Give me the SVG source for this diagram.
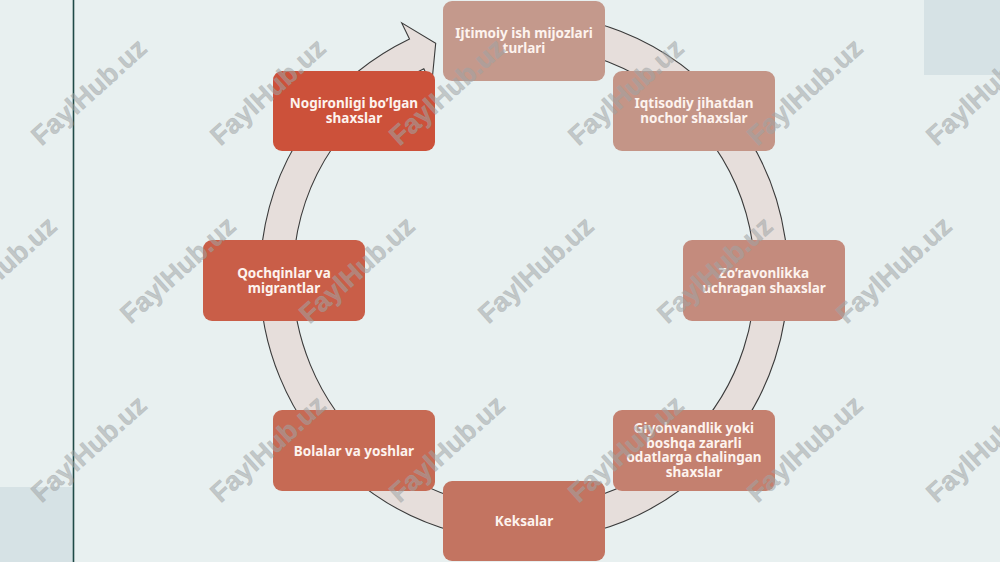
<svg xmlns="http://www.w3.org/2000/svg" width="1000" height="562" viewBox="0 0 1000 562">
  <style>
    .box { stroke: none; }
    .lbl { font-family: "Noto Sans", "Open Sans", "DejaVu Sans", sans-serif; font-weight: 700; font-size: 13.5px; fill: #fdf3ee; text-anchor: middle; }
    .wm { font-family: "Liberation Sans", Arial, sans-serif; font-weight: 700; font-size: 27px; fill: #a0a4a5; fill-opacity: 0.55; stroke: #a0a4a5; stroke-opacity: 0.4; stroke-width: 0.6; text-anchor: middle; dominant-baseline: central; }
  </style>
  <rect x="0" y="0" width="1000" height="562" fill="#e8f0f0"/>
  <rect x="924" y="0" width="76" height="75" fill="#d6e2e5"/>
  <rect x="0" y="487" width="73" height="75" fill="#d6e2e5"/>
  <line x1="73.5" y1="0" x2="73.5" y2="562" stroke="#1f4a47" stroke-width="1.6"/>

  <g id="connectors">
    <path id="cycle-arrow" d="M 500.99 14.0 A 264 264 0 1 1 409.51 39.11 L 401.71 22.90 L 435.7 43.3 L 431.63 85.07 L 423.82 68.85 A 231 231 0 1 0 503.87 46.88 Z" fill="#e6dedb" stroke="#3a3a3a" stroke-width="1.1" stroke-linejoin="miter"/>
  </g>

  <g id="node-top">
    <rect class="box" x="443" y="1" width="162" height="80" rx="9" fill="#c4998c"/>
    <text class="lbl" x="524" y="38">Ijtimoiy ish mijozlari</text>
    <text class="lbl" x="524" y="53">turlari</text>
  </g>
  <g id="node-iqtisodiy">
    <rect class="box" x="613" y="71" width="162" height="80" rx="9" fill="#c49587"/>
    <text class="lbl" x="694" y="108">Iqtisodiy jihatdan</text>
    <text class="lbl" x="694" y="123">nochor shaxslar</text>
  </g>
  <g id="node-zoravonlik">
    <rect class="box" x="683" y="240" width="162" height="81" rx="9" fill="#c48b7d"/>
    <text class="lbl" x="764" y="278">Zo’ravonlikka</text>
    <text class="lbl" x="764" y="293">uchragan shaxslar</text>
  </g>
  <g id="node-giyohvandlik">
    <rect class="box" x="613" y="410" width="162" height="81" rx="9" fill="#c4806f"/>
    <text class="lbl" x="694" y="433">Giyohvandlik yoki</text>
    <text class="lbl" x="694" y="447.7">boshqa zararli</text>
    <text class="lbl" x="694" y="462.4">odatlarga chalingan</text>
    <text class="lbl" x="694" y="477">shaxslar</text>
  </g>
  <g id="node-keksalar">
    <rect class="box" x="443" y="481" width="162" height="80" rx="9" fill="#c37461"/>
    <text class="lbl" x="524" y="525.5">Keksalar</text>
  </g>
  <g id="node-bolalar">
    <rect class="box" x="273" y="410" width="162" height="81" rx="9" fill="#c66a54"/>
    <text class="lbl" x="354" y="455.5">Bolalar va yoshlar</text>
  </g>
  <g id="node-qochqinlar">
    <rect class="box" x="203" y="240" width="162" height="81" rx="9" fill="#c95e48"/>
    <text class="lbl" x="284" y="278">Qochqinlar va</text>
    <text class="lbl" x="284" y="293">migrantlar</text>
  </g>
  <g id="node-nogironligi">
    <rect class="box" x="273" y="71" width="162" height="80" rx="9" fill="#cc513a"/>
    <text class="lbl" x="354" y="108">Nogironligi bo’lgan</text>
    <text class="lbl" x="354" y="123">shaxslar</text>
  </g>

  <g id="watermarks">
    <text class="wm" transform="translate(89,92) rotate(-42)">FaylHub.uz</text>
    <text class="wm" transform="translate(268,92) rotate(-42)">FaylHub.uz</text>
    <text class="wm" transform="translate(447,92) rotate(-42)">FaylHub.uz</text>
    <text class="wm" transform="translate(626,92) rotate(-42)">FaylHub.uz</text>
    <text class="wm" transform="translate(805,92) rotate(-42)">FaylHub.uz</text>
    <text class="wm" transform="translate(984,92) rotate(-42)">FaylHub.uz</text>
    <text class="wm" transform="translate(-1,270) rotate(-42)">FaylHub.uz</text>
    <text class="wm" transform="translate(178,270) rotate(-42)">FaylHub.uz</text>
    <text class="wm" transform="translate(357,270) rotate(-42)">FaylHub.uz</text>
    <text class="wm" transform="translate(536,270) rotate(-42)">FaylHub.uz</text>
    <text class="wm" transform="translate(715,270) rotate(-42)">FaylHub.uz</text>
    <text class="wm" transform="translate(894,270) rotate(-42)">FaylHub.uz</text>
    <text class="wm" transform="translate(89,449) rotate(-42)">FaylHub.uz</text>
    <text class="wm" transform="translate(268,449) rotate(-42)">FaylHub.uz</text>
    <text class="wm" transform="translate(447,449) rotate(-42)">FaylHub.uz</text>
    <text class="wm" transform="translate(626,449) rotate(-42)">FaylHub.uz</text>
    <text class="wm" transform="translate(805,449) rotate(-42)">FaylHub.uz</text>
    <text class="wm" transform="translate(984,449) rotate(-42)">FaylHub.uz</text>
  </g>
</svg>
